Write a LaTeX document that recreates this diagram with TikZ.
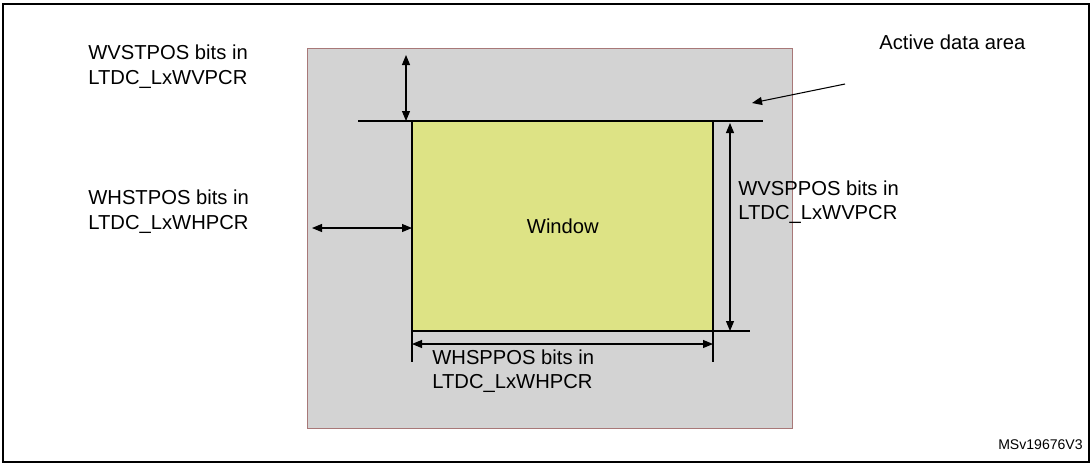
\documentclass[tikz,border=0pt]{standalone}
\usepackage{fontspec}
\setmainfont{Liberation Sans}
\usetikzlibrary{arrows.meta}
\usetikzlibrary{positioning}
\definecolor{areagray}{HTML}{D3D3D3}
\definecolor{areaedge}{HTML}{A87878}
\definecolor{winfill}{HTML}{DDE385}
\tikzstyle{label}=[align=left, anchor=north west, inner sep=0pt, font=\fontsize{11.5}{14}\selectfont]
\tikzstyle{dim}=[{Triangle[length=2mm, width=1.6mm]}-{Triangle[length=2mm, width=1.6mm]}, line width=0.6pt]
\tikzstyle{edge}=[line width=1pt]

\begin{document}
\begin{tikzpicture}[x=0.02cm, y=-0.02cm]
\useasboundingbox (0,0) rectangle (1091,464);
\draw[line width=0.8pt] (3,4) rectangle (1089,462);
\node [draw=areaedge, fill=areagray, line width=0.8pt, minimum width=485*0.02cm, minimum height=380*0.02cm, inner sep=0pt, anchor=north west] (area) at (307,48) {};
\node [fill=winfill, minimum width=301*0.02cm, minimum height=210*0.02cm, inner sep=0pt, anchor=north west] (win) at (412,121) {};
\node (wintext) at (win.center) {\fontsize{11.5}{14}\selectfont Window};

% window corners and extension lines
\coordinate (wTL) at (412,121);
\coordinate (wTR) at (713,121);
\coordinate (wBL) at (412,331);
\coordinate (wBR) at (713,331);
\coordinate (topL) at (358,121);
\coordinate (topR) at (763,121);
\coordinate (botR) at (750,331);
\coordinate (leftB) at (412,362);
\coordinate (rightB) at (713,362);
\draw[edge] (topL) -- (topR);
\draw[edge] (wBL) -- (botR);
\draw[edge] (wTL) -- (leftB);
\draw[edge] (wTR) -- (rightB);

% dimension arrows
\coordinate (vstA) at (406,55);
\coordinate (vstB) at (406,121);
\coordinate (hstA) at (312,228);
\coordinate (hstB) at (412,228);
\coordinate (vspA) at (730,123);
\coordinate (vspB) at (730,331);
\coordinate (hspA) at (412,344);
\coordinate (hspB) at (713,344);
\draw[dim] (vstA) -- (vstB);
\draw[dim] (hstA) -- (hstB);
\draw[dim] (vspA) -- (vspB);
\draw[dim] (hspA) -- (hspB);

% labels
\node [label] (vst) at (88,45) {WVSTPOS bits in\\LTDC\_LxWVPCR};
\node [label] (hst) at (88,190) {WHSTPOS bits in\\LTDC\_LxWHPCR};
\node [label] (vsp) at (738,180) {WVSPPOS bits in\\LTDC\_LxWVPCR};
\node [label] (hsp) at (432,349) {WHSPPOS bits in\\LTDC\_LxWHPCR};
\node [label] (act) at (879,35) {Active data area};
\coordinate (actTip) at (752,103);
\draw[-{Triangle[length=2mm, width=1.6mm]}, line width=0.6pt] (845,84) -- (actTip);
\node [anchor=south east, inner sep=0pt, font=\fontsize{8}{10}\selectfont] (ref) at (1083,450) {MSv19676V3};
\end{tikzpicture}
\end{document}
